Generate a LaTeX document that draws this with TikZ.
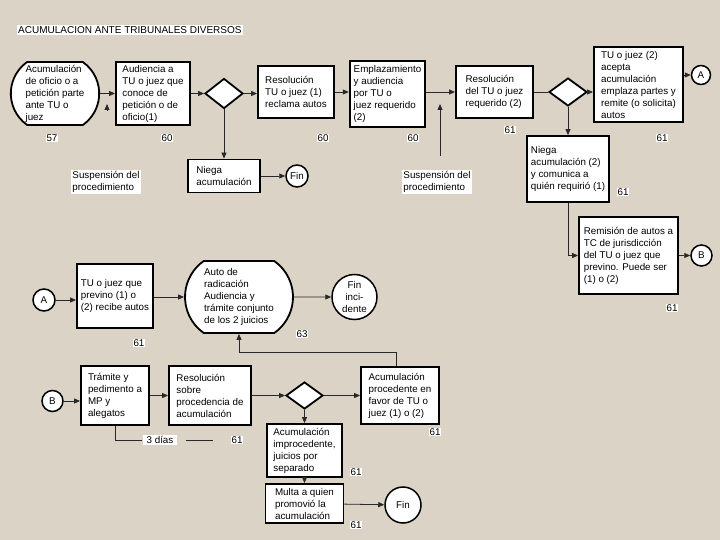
\documentclass[tikz,border=0pt]{standalone}
\usepackage{fontspec}
\setmainfont{Liberation Sans}
\usetikzlibrary{arrows.meta,shapes.geometric,shapes.misc,calc}
\definecolor{bgc}{RGB}{219,212,198}
\definecolor{lnc}{RGB}{40,40,40}
\begin{document}
\begin{tikzpicture}[x=1pt,y=-1pt,
 every node/.style={font=\fontsize{9.8}{12}\selectfont},
 box/.style={draw, line width=1.8pt, fill=white, align=left, inner xsep=4pt, inner ysep=2pt},
 sz/.style 2 args={minimum width=#1pt, minimum height=#2pt},
 dia/.style={draw, diamond, line width=1.8pt, fill=white, inner sep=0pt},
 stad/.style={draw, rounded rectangle, rounded rectangle arc length=110, line width=1.8pt, fill=white, align=left, inner sep=2pt},
 circ/.style={draw, circle, line width=1.5pt, fill=white, inner sep=0pt, align=center},
 conn/.style={line width=0.8pt, draw=lnc},
 arr/.style={conn, -{Triangle[length=6pt,width=5pt]}},
 lbl/.style={fill=white, inner sep=1pt, align=left},
]
\fill[bgc] (0,0) rectangle (720,540);
\useasboundingbox (0,0) rectangle (720,540);

% ---- row 1
\node[box, sz={74}{63}] (n2) at (153,93.5) {Audiencia a\\TU o juez que\\conoce de\\petición o de\\oficio(1)};
\node[stad, sz={86}{63}] (n1) at (55,93.5) {Acumulación\\de oficio o a\\petición parte\\ante TU o\\juez};
\node[dia, sz={38}{30}] (d1) at (224,93.5) {};
\node[box, sz={76}{52}] (n3) at (296,92) {Resolución\\TU o juez (1)\\reclama autos};
\node[box, sz={75}{66}] (n4) at (387.5,94) {Emplazamiento\\y audiencia\\por TU o\\juez requerido\\(2)};
\node[box, sz={77}{52}] (n5) at (494.5,92) {Resolución\\del TU o juez\\requerido (2)};
\node[dia, sz={38}{28}] (d2) at (568,92) {};
\node[box, sz={89}{75}] (n6) at (638.5,84.5) {TU o juez (2)\\acepta\\acumulación\\emplaza partes y\\remite (o solicita)\\autos};
\node[circ, minimum size=19pt] (cA1) at (701,75) {A};
\node[box, sz={72}{33}] (n7) at (224,176) {Niega\\acumulación};
\node[circ, minimum size=22pt] (fin1) at (297,176) {Fin};
\node[box, sz={82}{66}] (n8) at (568,169) {Niega\\acumulación (2)\\y comunica a\\quién requirió (1)};
\node[box, sz={99}{77}] (n9) at (628.5,255.5) {Remisión de autos a\\TC de jurisdicción\\del TU o juez que\\previno. Puede ser\\(1) o (2)};
\node[circ, minimum size=21pt] (cB1) at (701.5,255.5) {B};

% ---- row 2
\node[circ, minimum size=22pt] (cA2) at (44,300) {A};
\node[box, sz={76}{64}] (n10) at (115,296) {TU o juez que\\previno (1) o\\(2) recibe autos};
\node[stad, sz={112}{72}] (n11) at (239,297) {Auto de\\radicación\\Audiencia y\\trámite conjunto\\de los 2 juicios};
\node[circ, minimum size=45pt] (fin2) at (354.5,297) {Fin\\inci-\\dente};

% ---- row 3
\node[circ, minimum size=21pt] (cB2) at (52.5,401) {B};
\node[box, sz={68}{59}] (n12) at (115,395.5) {Trámite y\\pedimento a\\MP y\\alegatos};
\node[box, sz={82}{59}] (n13) at (210,395.5) {Resolución\\sobre\\procedencia de\\acumulación};
\node[dia, sz={37}{27}] (d3) at (304.5,395.5) {};
\node[box, sz={78}{57}] (n14) at (400,395.5) {Acumulación\\procedente en\\favor de TU o\\juez (1) o (2)};
\node[box, sz={75}{53}] (n15) at (304.5,450.5) {Acumulación\\improcedente,\\juicios por\\separado};
\node[box, sz={78}{39}] (n16) at (304.5,503.5) {Multa a quien\\promovió la\\acumulación};
\node[circ, minimum size=36pt] (fin3) at (403,505) {Fin};

% ---- coordinates
\coordinate (s1) at (440,156);
\coordinate (s1t) at (440,104);
\coordinate (t1) at (107,111);
\coordinate (t1e) at (107,104);
\coordinate (j1) at (239,352);
\coordinate (k1) at (142,440);
\coordinate (k2) at (186,440);
\coordinate (k3) at (213,440);

% ---- connectors row 1
\draw[arr] (n1) -- (n2);
\draw[arr] (n2.east) -- (d1.west);
\draw[arr] (d1.east) -- (d1.east -| n3.west);
\draw[arr] (n3.east) -- (n3.east -| n4.west);
\draw[arr] (n4.east |- n5.west) -- (n5.west);
\draw[conn] (n5.east) -- (d2.west);
\draw[arr] (d2.east) -- (d2.east -| n6.west);
\draw[arr] (n6.east |- cA1) -- (cA1.west);
\draw[arr] (d1.south) -- (n7.north);
\draw[arr] (n7) -- (fin1);
\draw[arr] (d2.south) -- (n8.north);
\draw[arr] (n8.south) |- (n9.west);
\draw[arr] (n9) -- (cB1);
\draw[arr] (s1) -- (s1t);
\draw[arr] (t1) -- (t1e);

% ---- connectors row 2
\draw[arr] (cA2) -- (cA2 -| n10.west);
\draw[arr] (n10.east |- n11.west) -- (n11.west);
\draw[arr] (n11) -- (fin2);
\draw[arr] ([xshift=-4pt]n14.north) |- (j1) -- (n11.south);

% ---- connectors row 3
\draw[arr] (cB2) -- (cB2 -| n12.west);
\draw[arr] (n12) -- (n13);
\draw[arr] (n13) -- (d3);
\draw[arr] (d3) -- (n14);
\draw[arr] (d3) -- (n15);
\draw[arr] (n15) -- (n16);
\draw[arr] (n16) -- (fin3);
\draw[conn] (n12.south) |- (k1);
\draw[conn] (k2) -- (k3);

% ---- labels
\node[lbl, font=\fontsize{10}{12}\selectfont, anchor=west] (title) at (17,30) {ACUMULACION ANTE TRIBUNALES DIVERSOS};
\node[lbl] (sp1) at (106,182) {Suspensión del\\procedimiento};
\node[lbl] (sp2) at (437,182) {Suspensión del\\procedimiento};
\node[lbl, inner xsep=4pt] (dias) at (160,440) {3 días};
\node[lbl] (l1) at (52,138) {57};
\node[lbl] (l2) at (167,138) {60};
\node[lbl] (l3) at (323,138) {60};
\node[lbl] (l4) at (413,138) {60};
\node[lbl] (l5) at (510,130) {61};
\node[lbl] (l6) at (662,138) {61};
\node[lbl] (l7) at (623,192) {61};
\node[lbl] (l8) at (672,308) {61};
\node[lbl] (l9) at (139,343) {61};
\node[lbl] (l10) at (302,334) {63};
\node[lbl] (l11) at (237,440) {61};
\node[lbl] (l12) at (435,432) {61};
\node[lbl] (l13) at (356,472) {61};
\node[lbl] (l14) at (356,525) {61};
\end{tikzpicture}
\end{document}
